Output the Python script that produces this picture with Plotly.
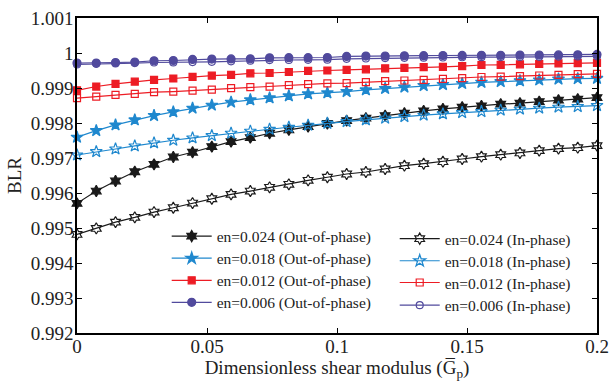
import plotly.graph_objects as go

# x values: dimensionless shear modulus, 28 points from 0 to 0.2
x_vals = [round(i * 0.2 / 27, 6) for i in range(28)]

out_024 = [0.995704, 0.996056, 0.996342, 0.996608, 0.996820, 0.997029, 0.997164, 0.997324,
           0.997467, 0.997582, 0.997708, 0.997802, 0.997897, 0.997985, 0.998068, 0.998137,
           0.998212, 0.998280, 0.998346, 0.998403, 0.998452, 0.998489, 0.998538, 0.998567,
           0.998612, 0.998652, 0.998681, 0.998727]
in_024 = [0.994816, 0.994988, 0.995168, 0.995303, 0.995455, 0.995578, 0.995712, 0.995835,
          0.995961, 0.996056, 0.996162, 0.996248, 0.996362, 0.996450, 0.996543, 0.996600,
          0.996686, 0.996780, 0.996837, 0.996895, 0.996972, 0.997038, 0.997095, 0.997144,
          0.997210, 0.997267, 0.997295, 0.997353]
out_018 = [0.997593, 0.997782, 0.997945, 0.998088, 0.998212, 0.998317, 0.998423, 0.998509,
           0.998595, 0.998661, 0.998718, 0.998776, 0.998833, 0.998862, 0.998899, 0.998947,
           0.998985, 0.999025, 0.999070, 0.999099, 0.999128, 0.999162, 0.999182, 0.999205,
           0.999228, 0.999254, 0.999265, 0.999274]
in_018 = [0.997086, 0.997181, 0.997258, 0.997344, 0.997430, 0.997507, 0.997573, 0.997639,
          0.997708, 0.997765, 0.997822, 0.997879, 0.997937, 0.997990, 0.998040, 0.998088,
          0.998137, 0.998183, 0.998223, 0.998260, 0.998297, 0.998326, 0.998366, 0.998395,
          0.998423, 0.998452, 0.998469, 0.998498]
out_012 = [0.998933, 0.999042, 0.999119, 0.999182, 0.999234, 0.999271, 0.999319, 0.999354,
           0.999377, 0.999420, 0.999428, 0.999457, 0.999491, 0.999500, 0.999520, 0.999534,
           0.999563, 0.999577, 0.999597, 0.999606, 0.999626, 0.999657, 0.999663, 0.999677,
           0.999686, 0.999703, 0.999709, 0.999715]
in_012 = [0.998710, 0.998756, 0.998804, 0.998833, 0.998881, 0.998899, 0.998927, 0.998956,
          0.998996, 0.999025, 0.999042, 0.999082, 0.999110, 0.999133, 0.999142, 0.999168,
          0.999199, 0.999214, 0.999234, 0.999262, 0.999282, 0.999314, 0.999325, 0.999342,
          0.999357, 0.999377, 0.999394, 0.999405]
out_006 = [0.999712, 0.999712, 0.999729, 0.999740, 0.999778, 0.999786, 0.999815, 0.999826,
           0.999830, 0.999835, 0.999863, 0.999865, 0.999867, 0.999872, 0.999901, 0.999912,
           0.999914, 0.999921, 0.999923, 0.999929, 0.999931, 0.999933, 0.999935, 0.999941,
           0.999943, 0.999946, 0.999949, 0.999958]
in_006 = [0.999672, 0.999692, 0.999700, 0.999712, 0.999729, 0.999731, 0.999740, 0.999749,
          0.999763, 0.999778, 0.999798, 0.999800, 0.999806, 0.999808, 0.999835, 0.999843,
          0.999855, 0.999863, 0.999865, 0.999872, 0.999878, 0.999881, 0.999883, 0.999886,
          0.999892, 0.999898, 0.999901, 0.999904]

x_tickvals = [0, 0.05, 0.1, 0.15, 0.2]
x_ticktext = ["0", "0.05", "0.1", "0.15", "0.2"]
y_tickvals = [0.992, 0.993, 0.994, 0.995, 0.996, 0.997, 0.998, 0.999, 1.0, 1.001]
y_ticktext = ["0.992", "0.993", "0.994", "0.995", "0.996", "0.997", "0.998", "0.999", "1", "1.001"]

BLACK = "#1a1a1a"
BLUE = "#1f88ce"
RED = "#ed1c24"
PURPLE = "#514a9d"

# (name, values, colour, symbol, size)
series = [
    ("en=0.024 (Out-of-phase)", out_024, BLACK, "hexagram", 8.5),
    ("en=0.018 (Out-of-phase)", out_018, BLUE, "star", 9),
    ("en=0.012 (Out-of-phase)", out_012, RED, "square", 7),
    ("en=0.006 (Out-of-phase)", out_006, PURPLE, "circle", 8),
    ("en=0.024 (In-phase)", in_024, BLACK, "hexagram-open", 8.5),
    ("en=0.018 (In-phase)", in_018, BLUE, "star-open", 9),
    ("en=0.012 (In-phase)", in_012, RED, "square-open", 7),
    ("en=0.006 (In-phase)", in_006, PURPLE, "circle-open", 7),
]

FONT = "Liberation Serif"

# one legend box per entry so the two-column layout matches the original
legend_ids = ["legend"] + ["legend%d" % i for i in range(2, 9)]
legend_pos = [(0.1725, 0.360), (0.1725, 0.290), (0.1725, 0.220), (0.1725, 0.150),
              (0.611, 0.352), (0.611, 0.282), (0.611, 0.213), (0.611, 0.141)]

fig = go.Figure()
for (name, ys, color, sym, size), lg in zip(series, legend_ids):
    fig.add_trace(go.Scatter(
        x=x_vals, y=ys, name=name, mode="lines+markers",
        line=dict(color=color, width=1.2),
        marker=dict(symbol=sym, size=size, color=color,
                    line=dict(color=color, width=1.2)),
        cliponaxis=False, legend=lg,
    ))

axis_common = dict(
    showline=True, linecolor="black", linewidth=1.5, mirror="ticks",
    ticks="inside", ticklen=5, tickwidth=1, tickcolor="black",
    showgrid=False, zeroline=False, automargin=False,
    tickfont=dict(family=FONT, size=19, color="#222"),
)

legend_layout = {}
for lg, (lx, ly) in zip(legend_ids, legend_pos):
    legend_layout[lg] = dict(
        x=lx, y=ly, orientation="v", xanchor="left", yanchor="top",
        bgcolor="rgba(255,255,255,0)", borderwidth=0,
        font=dict(family=FONT, size=15.5, color="#222"),
        itemwidth=40, tracegroupgap=0,
    )

fig.update_layout(
    width=614, height=383,
    margin=dict(l=77, r=17, t=18, b=50, autoexpand=False),
    plot_bgcolor="white", paper_bgcolor="white",
    font=dict(family=FONT, size=19, color="#222"),
    xaxis=dict(range=[0, 0.2], tickvals=x_tickvals, ticktext=x_ticktext,
               ticklabelstandoff=-5,
               title=dict(text="Dimensionless shear modulus (G\u0305<sub>p</sub>)",
                          font=dict(family=FONT, size=19), standoff=0),
               **axis_common),
    yaxis=dict(range=[0.992, 1.001], tickvals=y_tickvals, ticktext=y_ticktext,
               ticklabelstandoff=-2,
               title=dict(text="BLR", font=dict(family=FONT, size=19), standoff=4),
               **axis_common),
    showlegend=True,
    **legend_layout,
)

fig.write_html(
    "out.html",
    config={"displayModeBar": False},
    post_script="document.body.style.margin='0';document.body.style.padding='0';",
)
